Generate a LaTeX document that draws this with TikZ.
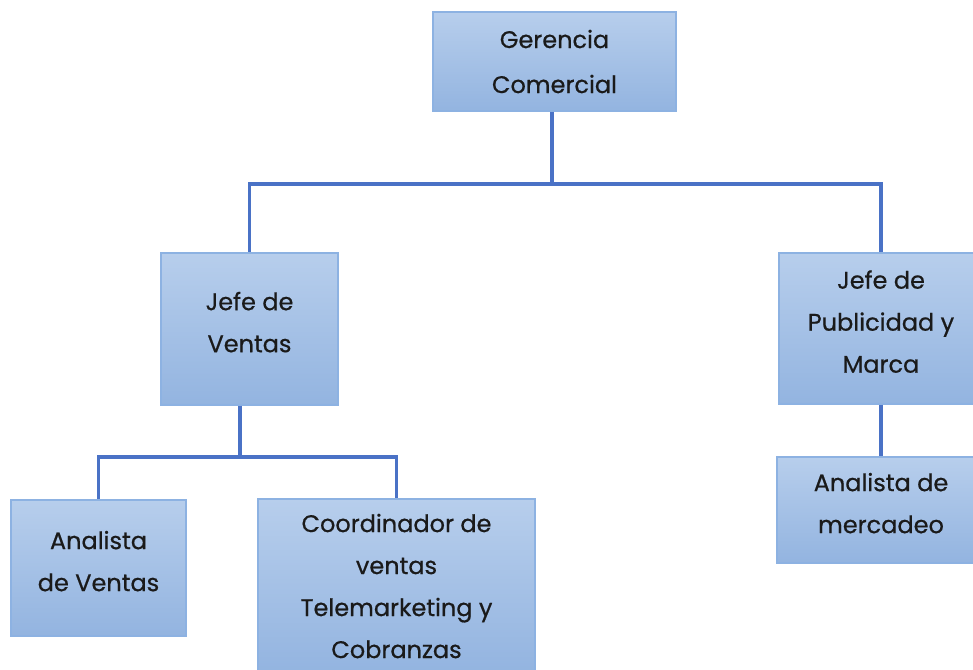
\documentclass[tikz,border=0pt]{standalone}
\usepackage{fontspec}
\setmainfont{Poppins}[UprightFeatures={FakeBold=0.6}]
\usepackage{tikz}
\usetikzlibrary{positioning}
\definecolor{boxtop}{HTML}{B7CEEC}
\definecolor{boxbot}{HTML}{93B4E0}
\definecolor{boxline}{HTML}{8DB2E2}
\definecolor{orgblue}{HTML}{4A72C6}
\definecolor{txt}{HTML}{1A1A1A}
\tikzset{
  orgbox/.style={rectangle,draw=boxline,line width=1pt,top color=boxtop,bottom color=boxbot,
    align=center,text=txt,font=\fontsize{18pt}{31.5pt}\selectfont,inner sep=0pt},
  liftedtext/.style={text depth=10.5pt},
  orgline/.style={draw=orgblue,line width=2.3pt}
}
\begin{document}
\begin{tikzpicture}[x=0.75pt,y=-0.75pt]
\useasboundingbox (0,0) rectangle (973,669);
\clip (0,0) rectangle (973,669);
\fill[white] (0,0) rectangle (973,669);
%
\node (ger) [orgbox,font=\fontsize{18pt}{33.75pt}\selectfont,minimum width=243*0.75pt,minimum height=99*0.75pt] at (554.5,61.5) {Gerencia\\Comercial};
\node (jv) [orgbox,liftedtext,minimum width=177*0.75pt,minimum height=152*0.75pt] at (249.5,329) {Jefe de\\Ventas};
\node (jp) [orgbox,liftedtext,minimum width=204*0.75pt,minimum height=151*0.75pt] at (881,328.5) {Jefe de\\Publicidad y\\Marca};
\node (av) [orgbox,liftedtext,minimum width=175*0.75pt,minimum height=136*0.75pt] at (98.5,568) {Analista\\de Ventas};
\node (co) [orgbox,minimum width=277*0.75pt,minimum height=174*0.75pt] at (396.5,586) {Coordinador de\\ventas\\Telemarketing y\\Cobranzas};
\node (am) [orgbox,liftedtext,minimum width=208*0.75pt,minimum height=106*0.75pt] at (881,510) {Analista de\\mercadeo};
%
\coordinate (j1) at (552,184);
\coordinate (j2) at (240,457);
\path[orgline] (ger.south -| j1) -- (j1);
\path[orgline] (j1) -| (jv.north);
\path[orgline] (j1) -| (jp.north);
\path[orgline] (jv.south -| j2) -- (j2);
\path[orgline] (j2) -| (av.north);
\path[orgline] (j2) -| (co.north);
\path[orgline] (jp.south) -- (am.north);
\end{tikzpicture}
\end{document}
